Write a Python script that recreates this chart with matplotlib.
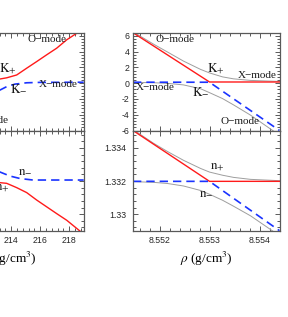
import numpy as np
import matplotlib
matplotlib.use("Agg")
import matplotlib.pyplot as plt
from matplotlib.ticker import MultipleLocator, FuncFormatter

plt.rcParams['mathtext.fontset'] = 'stix'
plt.rcParams['font.serif'] = ['Liberation Serif', 'DejaVu Serif']
plt.rcParams['axes.unicode_minus'] = False

# ---------------- data ----------------
# left panels (density around 214 g/cm^3)
rho_l_red = [212.5, 213.23, 213.69, 214.38, 215.07, 215.76, 216.45, 217.14, 217.83, 218.74]
K_plus_l = [0.45, 0.53, 0.68, 1.04, 1.9, 2.74, 3.6, 4.44, 5.5, 6.6]
rho_l_blue = [212.5, 213.23, 213.69, 214.26, 215.07, 215.99, 219.0]
K_minus_l = [-1.4, -0.87, -0.44, -0.12, 0.05, 0.1, 0.12]

rho_l_nred = [212.5, 213.23, 213.69, 214.38, 215.07, 215.76, 216.45, 217.14, 217.83, 218.74]
n_plus_l = [1.33192, 1.3319, 1.33186, 1.3316, 1.3313, 1.33085, 1.33044, 1.33003, 1.32963, 1.32898]
rho_l_nblue = [212.5, 213.35, 213.92, 214.61, 215.5, 219.0]
n_minus_l = [1.3328, 1.3325, 1.3323, 1.33215, 1.33206, 1.33206]

# right panels (density around 8.553 g/cm^3)
rho_r_lin = [8.55147, 8.55300, 8.55440]
K_plus_lin = [6.4, 0.15, 0.15]
K_minus_lin = [0.12, 0.12, -6.0]
n_plus_lin = [1.33505, 1.33198, 1.33198]
n_minus_lin = [1.33198, 1.33198, 1.32900]

rho_r = [8.55150, 8.55188, 8.55216, 8.55248, 8.55282, 8.55300, 8.55326, 8.55348, 8.55382, 8.55440]
K_plus = [6.4, 4.95, 3.95, 2.8, 1.75, 1.3, 0.8, 0.55, 0.35, 0.22]
K_minus = [0.1, 0.06, -0.02, -0.22, -0.7, -1.2, -1.95, -2.75, -4.05, -6.6]
n_plus = [1.33505, 1.33428, 1.33378, 1.33325, 1.33276, 1.33254, 1.33235, 1.33222, 1.33210, 1.33202]
n_minus = [1.33196, 1.33192, 1.33185, 1.3317, 1.33143, 1.3312, 1.33084, 1.33048, 1.3299, 1.3287]

RED = '#ff1a1a'
BLUE = '#1a33ff'
GRAY = '0.62'
FRAME = '0.35'

W, H = 288, 317
fig = plt.figure(figsize=(W / 100, H / 100), dpi=100)

xr0, wr = 133 / W, 146.5 / W
xl0 = (83.7 - 146.5) / W
yt0, ht = 1 - 130.5 / H, (130.5 - 32.7) / H
yb0, hb = 1 - 230.7 / H, (230.7 - 130.5) / H

ax_tl = fig.add_axes([xl0, yt0, wr, ht])
ax_bl = fig.add_axes([xl0, yb0, wr, hb])
ax_tr = fig.add_axes([xr0, yt0, wr, ht])
ax_br = fig.add_axes([xr0, yb0, wr, hb])

fmt = FuncFormatter(lambda v, p: ('%g' % round(v, 6)))


def style(ax, xmaj, ymaj, ypad):
    for s in ax.spines.values():
        s.set_color(FRAME)
        s.set_linewidth(0.9)
    ax.xaxis.set_major_locator(MultipleLocator(xmaj))
    ax.xaxis.set_minor_locator(MultipleLocator(xmaj / 5))
    ax.yaxis.set_major_locator(MultipleLocator(ymaj))
    ax.yaxis.set_minor_locator(MultipleLocator(ymaj / 5))
    ax.tick_params(which='both', direction='in', top=True, right=True,
                   color=FRAME, width=0.7, labelsize=6.3, labelcolor='0.15')
    ax.tick_params(which='major', length=3.6)
    ax.tick_params(which='minor', length=2.0)
    ax.tick_params(axis='y', pad=ypad)
    ax.tick_params(axis='x', pad=4)
    ax.xaxis.set_major_formatter(fmt)
    ax.yaxis.set_major_formatter(fmt)
    for lab in ax.get_xticklabels() + ax.get_yticklabels():
        lab.set_family('Liberation Sans')


style(ax_tl, 2, 2, 2.5)
style(ax_bl, 2, 0.002, 5.0)
style(ax_tr, 0.001, 2, 2.5)
style(ax_br, 0.001, 0.002, 5.0)

lab_kw = dict(family='serif', fontsize=8, color='0.1')
big_kw = dict(family='serif', fontsize=9.5, color='0.1')

# top-left
ax_tl.plot(rho_l_red, K_plus_l, color=RED, lw=1.0)
ax_tl.plot(rho_l_blue, K_minus_l, color=BLUE, lw=1.2, dashes=(5, 3))
ax_tl.set_xlim(208.9, 219.0)
ax_tl.set_ylim(-6, 6.4)
ax_tl.tick_params(labelbottom=False)
ax_tl.text(216.47, 5.6, 'O\u2212mode', ha='center', va='center', **lab_kw)
ax_tl.text(213.78, 1.8, r'$\mathrm{K}_{+}$', ha='center', va='center', **big_kw)
ax_tl.text(214.54, -0.75, r'$\mathrm{K}_{-}$', ha='center', va='center', **big_kw)
ax_tl.text(217.23, -0.15, 'X\u2212mode', ha='center', va='center', **lab_kw)
ax_tl.text(213.85, -4.7, 'O\u2212mode', ha='right', va='center', **lab_kw)

# bottom-left
ax_bl.plot(rho_l_nred, n_plus_l, color=RED, lw=1.0)
ax_bl.plot(rho_l_nblue, n_minus_l, color=BLUE, lw=1.2, dashes=(5, 3))
ax_bl.set_xlim(208.9, 219.0)
ax_bl.set_ylim(1.329, 1.33505)
ax_bl.text(214.95, 1.33262, r'$\mathrm{n}_{-}$', ha='center', va='center', **big_kw)
ax_bl.text(213.92, 1.33156, r'$\mathrm{n}_{+}$', ha='right', va='center', **big_kw)
ax_bl.set_xlabel(r'$\rho$ (g/cm$^3$)', family='serif', fontsize=9.5, labelpad=3)

# top-right
ax_tr.plot(rho_r, K_plus, color=GRAY, lw=0.7)
ax_tr.plot(rho_r, K_minus, color=GRAY, lw=0.7)
ax_tr.plot(rho_r_lin, K_plus_lin, color=RED, lw=1.0)
ax_tr.plot(rho_r_lin, K_minus_lin, color=BLUE, lw=1.2, dashes=(5, 3))
ax_tr.set_xlim(8.55147, 8.55440)
ax_tr.set_ylim(-6, 6.4)
ax_tr.tick_params(labelbottom=False)
ax_tr.text(8.5523, 5.5, 'O\u2212mode', ha='center', va='center', **lab_kw)
ax_tr.text(8.55312, 1.8, r'$\mathrm{K}_{+}$', ha='center', va='center', **big_kw)
ax_tr.text(8.55396, 0.95, 'X\u2212mode', ha='center', va='center', **lab_kw)
ax_tr.text(8.55192, -0.6, 'X\u2212mode', ha='center', va='center', **lab_kw)
ax_tr.text(8.55282, -1.15, r'$\mathrm{K}_{-}$', ha='center', va='center', **big_kw)
ax_tr.text(8.55360, -4.8, 'O\u2212mode', ha='center', va='center', **lab_kw)

# bottom-right
ax_br.plot(rho_r, n_plus, color=GRAY, lw=0.7)
ax_br.plot(rho_r, n_minus, color=GRAY, lw=0.7)
ax_br.plot(rho_r_lin, n_plus_lin, color=RED, lw=1.0)
ax_br.plot(rho_r_lin, n_minus_lin, color=BLUE, lw=1.2, dashes=(5, 3))
ax_br.set_xlim(8.55147, 8.55440)
ax_br.set_ylim(1.329, 1.33505)
ax_br.text(8.55316, 1.33283, r'$\mathrm{n}_{+}$', ha='center', va='center', **big_kw)
ax_br.text(8.55294, 1.33125, r'$\mathrm{n}_{-}$', ha='center', va='center', **big_kw)
ax_br.set_xlabel(r'$\rho$ (g/cm$^3$)', family='serif', fontsize=9.5, labelpad=3)

fig.savefig('out.png', dpi=100)
